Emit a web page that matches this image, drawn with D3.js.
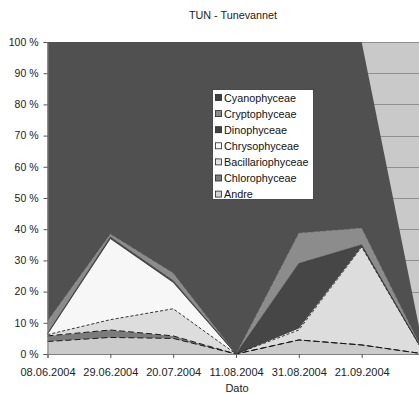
<!DOCTYPE html>
<html>
<head>
<meta charset="utf-8">
<script src="https://cdn.jsdelivr.net/npm/d3@7"></script>
<style>
  html, body { margin: 0; padding: 0; background: #ffffff; }
  svg { display: block; font-family: "Liberation Sans", Arial, sans-serif; }
</style>
</head>
<body>
<svg id="chart" width="419" height="393"></svg>
<script>
// Sampling dates (last sampling has no counts)
const dates = ["08.06.2004", "29.06.2004", "20.07.2004", "11.08.2004", "31.08.2004", "21.09.2004", ""];

// Share of total biomass per algal class, percent
const andre            = [4.0, 5.3, 5.0, 0, 4.5, 2.9, 0];
const chlorophyceae    = [1.8, 2.4, 0.8, 0, 0.0, 0.0, 0];
const bacillariophyceae= [0.4, 3.3, 8.7, 0, 3.2, 31.4, 0];
const chrysophyceae    = [0.2, 26.0, 8.5, 0, 0.6, 0.3, 0];
const dinophyceae      = [0.2, 0.5, 0.5, 0, 20.7, 0.4, 0];
const cryptophyceae    = [4.0, 1.0, 2.5, 0, 9.8, 5.4, 0];
const cyanophyceae     = [89.4, 61.5, 74.0, 100, 61.2, 59.6, 0];

const yTicks = [0, 10, 20, 30, 40, 50, 60, 70, 80, 90, 100];

// Stack order, bottom to top
const series = [
  { key: "Andre",             values: andre,             fill: "#cbcbcb", stroke: "#1a1a1a", dash: "6,3", sw: 1 },
  { key: "Chlorophyceae",     values: chlorophyceae,     fill: "#7c7c7c", stroke: "#1a1a1a", dash: "6,3", sw: 1 },
  { key: "Bacillariophyceae", values: bacillariophyceae, fill: "#dddddd", stroke: "#222222", dash: "3,2", sw: 0.9 },
  { key: "Chrysophyceae",     values: chrysophyceae,     fill: "#f7f7f7", stroke: "#333333", dash: null,  sw: 0.8 },
  { key: "Dinophyceae",       values: dinophyceae,       fill: "#464646", stroke: "#333333", dash: null,  sw: 0.6 },
  { key: "Cryptophyceae",     values: cryptophyceae,     fill: "#8c8c8c", stroke: "#555555", dash: "4,2", sw: 0.6 },
  { key: "Cyanophyceae",      values: cyanophyceae,      fill: "#505050", stroke: "none",    dash: null,  sw: 0 }
];

const rows = dates.map((d, i) => {
  const r = { date: d };
  series.forEach(s => { r[s.key] = s.values[i]; });
  return r;
});

const svg = d3.select("#chart");
const plotLeft = 47.5, plotRight = 424.5, plotTop = 42, plotBottom = 354;

const x = d3.scalePoint().domain(dates).range([plotLeft, plotRight]);
const y = d3.scaleLinear().domain([0, 1]).range([plotBottom, plotTop]);

const stack = d3.stack()
  .keys(series.map(s => s.key))
  .order(d3.stackOrderNone)
  .offset(d3.stackOffsetExpand);
const stacked = stack(rows);

// Plot area background and gridlines
svg.append("rect")
  .attr("x", plotLeft).attr("y", plotTop)
  .attr("width", plotRight - plotLeft).attr("height", plotBottom - plotTop)
  .attr("fill", "#c9c9c9");

svg.append("g")
  .selectAll("line")
  .data(yTicks.filter(t => t > 0))
  .join("line")
  .attr("x1", plotLeft).attr("x2", plotRight)
  .attr("y1", t => Math.round(y(t / 100)) + 0.5)
  .attr("y2", t => Math.round(y(t / 100)) + 0.5)
  .attr("stroke", "#8f8f8f")
  .attr("stroke-width", 1);

// Areas
const area = d3.area()
  .x((d, i) => x(dates[i]))
  .y0(d => y(d[0]))
  .y1(d => y(d[1]));

const topLine = d3.line()
  .x((d, i) => x(dates[i]))
  .y(d => y(d[1]));

svg.append("g")
  .selectAll("path")
  .data(stacked)
  .join("path")
  .attr("d", area)
  .attr("fill", (d, i) => series[i].fill);

svg.append("g")
  .selectAll("path")
  .data(stacked.filter((d, i) => series[i].stroke !== "none"))
  .join("path")
  .attr("d", topLine)
  .attr("fill", "none")
  .attr("stroke", d => series.find(s => s.key === d.key).stroke)
  .attr("stroke-width", d => series.find(s => s.key === d.key).sw)
  .attr("stroke-dasharray", d => series.find(s => s.key === d.key).dash);

// Axes
const yAxis = svg.append("g")
  .attr("transform", `translate(${plotLeft},0)`)
  .call(d3.axisLeft(y)
    .tickValues(yTicks.map(t => t / 100))
    .tickSize(4)
    .tickPadding(5)
    .tickFormat(t => Math.round(t * 100) + " %"));
yAxis.select(".domain").attr("stroke", "#808080");
yAxis.selectAll(".tick line").attr("stroke", "#555555");
yAxis.selectAll("text").attr("font-size", "10.5px").attr("fill", "#222");

const xAxis = svg.append("g")
  .attr("transform", `translate(0,${plotBottom})`)
  .call(d3.axisBottom(x).tickSize(4).tickPadding(10));
xAxis.select(".domain").attr("stroke", "#808080");
xAxis.selectAll(".tick line").attr("stroke", "#555555");
xAxis.selectAll("text").attr("font-size", "11px").attr("fill", "#222");

// Titles
svg.append("text")
  .attr("x", 233).attr("y", 19)
  .attr("text-anchor", "middle")
  .attr("font-size", "10.8px").attr("fill", "#222")
  .text("TUN - Tunevannet");

svg.append("text")
  .attr("x", 237).attr("y", 392)
  .attr("text-anchor", "middle")
  .attr("font-size", "11px").attr("fill", "#222")
  .text("Dato");

// Legend, listed top to bottom like the stack
const legend = svg.append("g");
legend.append("rect")
  .attr("x", 212.5).attr("y", 89.5)
  .attr("width", 101).attr("height", 110)
  .attr("fill", "#ffffff").attr("stroke", "#333333").attr("stroke-width", 0.8);

const legendItems = series.slice().reverse();
const legendFill = {
  Cyanophyceae: "#404040", Cryptophyceae: "#8a8a8a", Dinophyceae: "#404040",
  Chrysophyceae: "#ffffff", Bacillariophyceae: "#e2e2e2", Chlorophyceae: "#7c7c7c", Andre: "#d2d2d2"
};
const row = legend.selectAll("g.item")
  .data(legendItems)
  .join("g")
  .attr("class", "item")
  .attr("transform", (d, i) => `translate(0,${97.5 + i * 16.1})`);
row.append("rect")
  .attr("x", 215.5).attr("y", -3)
  .attr("width", 6).attr("height", 6)
  .attr("fill", d => legendFill[d.key])
  .attr("stroke", "#222").attr("stroke-width", 0.8);
row.append("text")
  .attr("x", 224).attr("y", 4)
  .attr("font-size", "10.8px").attr("fill", "#111")
  .text(d => d.key);
</script>
</body>
</html>
